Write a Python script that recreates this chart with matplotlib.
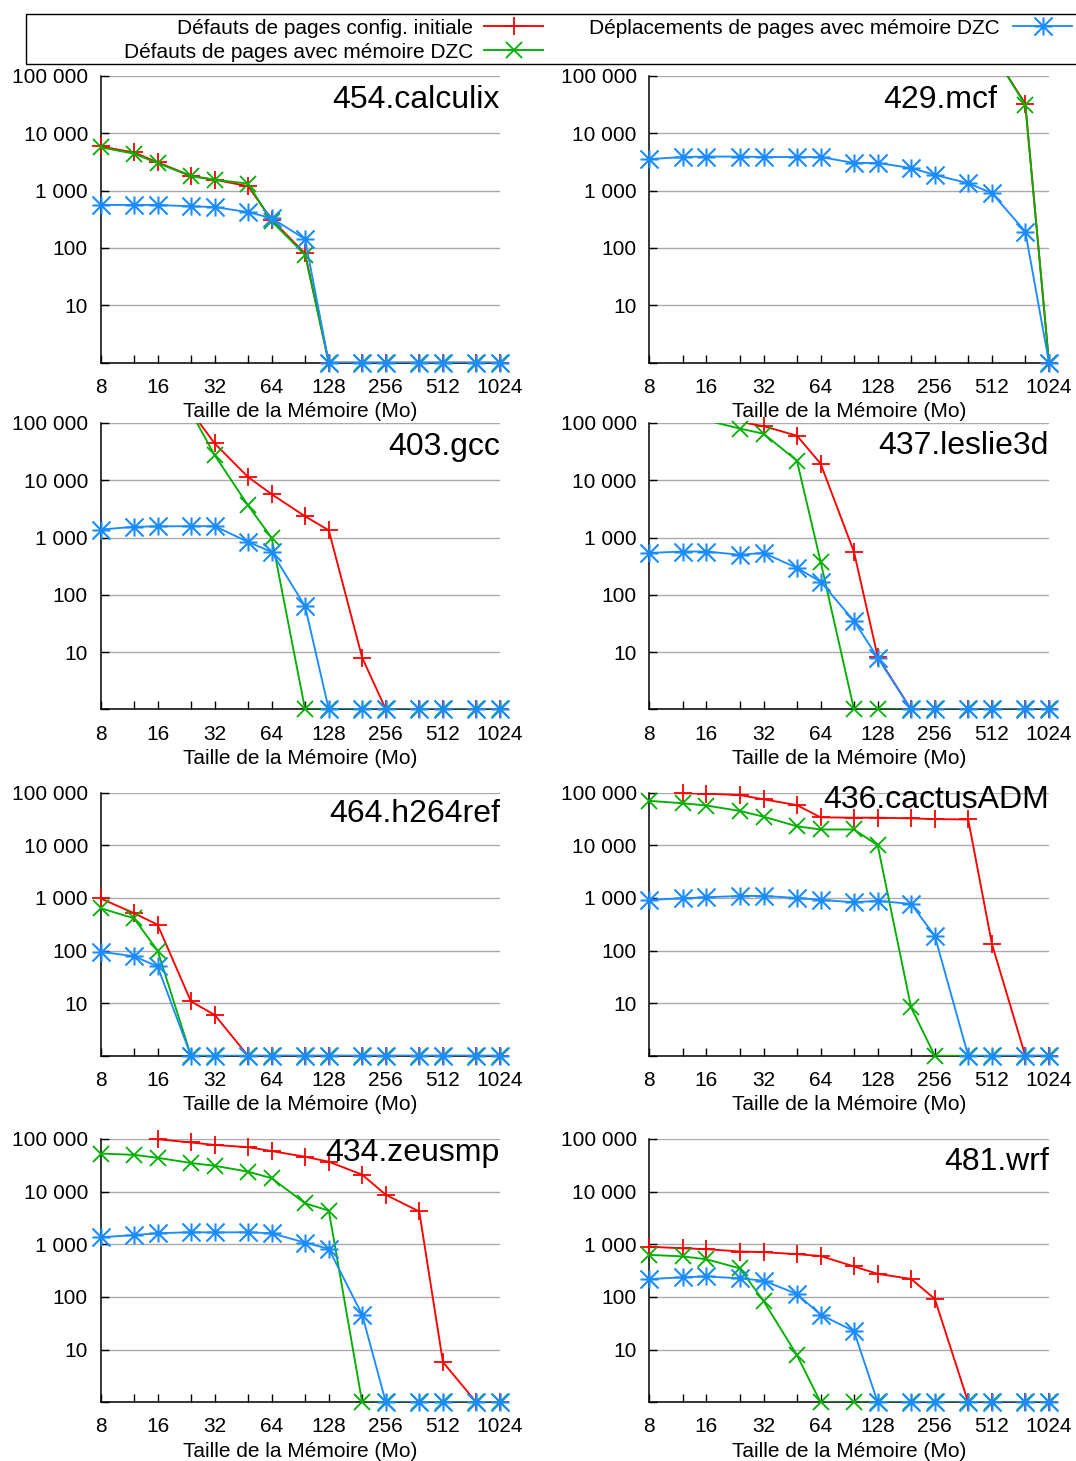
import numpy as np
import matplotlib
matplotlib.use("Agg")
import matplotlib.pyplot as plt
from matplotlib.path import Path
from matplotlib.patches import Rectangle
from matplotlib.ticker import FixedLocator, FixedFormatter, NullFormatter, NullLocator

plt.rcParams['font.family'] = ['Liberation Sans', 'DejaVu Sans']

# ---------------- data ----------------
mem_mo = [8, 12, 16, 24, 32, 48, 64, 96, 128, 192, 256, 384, 512, 768, 1024]
x_tick_values = [8, 16, 32, 64, 128, 256, 512, 1024]
x_tick_labels = ['8', '16', '32', '64', '128', '256', '512', '1024']
y_tick_values = [1, 10, 100, 1000, 10000, 100000]
y_tick_labels = ['', '10', '100', '1 000', '10 000', '100 000']
x_axis_title = 'Taille de la Mémoire (Mo)'
series_labels = ['Défauts de pages config. initiale',
                 'Défauts de pages avec mémoire DZC',
                 'Déplacements de pages avec mémoire DZC']
benchmarks = ['454.calculix', '429.mcf', '403.gcc', '437.leslie3d',
              '464.h264ref', '436.cactusADM', '434.zeusmp', '481.wrf']

calculix_init = [5850, 4600, 3100, 1800, 1540, 1190, 310, 80, 0, 0, 0, 0, 0, 0, 0]
calculix_dzc = [5650, 4380, 3000, 1780, 1540, 1320, 290, 76, 0, 0, 0, 0, 0, 0, 0]
calculix_moves = [560, 560, 560, 530, 515, 420, 330, 142, 0, 0, 0, 0, 0, 0, 0]

mcf_init = [320000, 310000, 300000, 300000, 290000, 290000, 285000, 280000, 280000,
            275000, 272000, 268000, 265000, 32500, 0]
mcf_dzc = [320000, 310000, 300000, 300000, 290000, 290000, 285000, 280000, 280000,
           275000, 272000, 270000, 270000, 31000, 0]
mcf_moves = [3520, 3830, 3900, 3900, 3830, 3830, 3830, 3020, 3020, 2460, 1870, 1340, 900, 193, 0]

gcc_init = [260000, 230000, 200000, 160000, 44000, 11400, 5700, 2350, 1340, 8, 0, 0, 0, 0, 0]
gcc_dzc = [250000, 220000, 190000, 155000, 27500, 3650, 980, 0, 0, 0, 0, 0, 0, 0, 0]
gcc_moves = [1380, 1540, 1570, 1580, 1580, 840, 560, 63, 0, 0, 0, 0, 0, 0, 0]

leslie3d_init = [130000, 125000, 120000, 105000, 88000, 60000, 19500, 560, 8.3, 0, 0, 0, 0, 0, 0]
leslie3d_dzc = [125000, 118000, 111000, 80000, 65000, 22000, 380, 0, 0, 0, 0, 0, 0, 0, 0]
leslie3d_moves = [540, 570, 570, 500, 540, 295, 170, 35, 8, 0, 0, 0, 0, 0, 0]

h264ref_init = [980, 515, 310, 10.8, 6, 0, 0, 0, 0, 0, 0, 0, 0, 0, 0]
h264ref_dzc = [640, 410, 100, 0, 0, 0, 0, 0, 0, 0, 0, 0, 0, 0, 0]
h264ref_moves = [95, 78, 50, 0, 0, 0, 0, 0, 0, 0, 0, 0, 0, 0, 0]

cactusADM_init = [115000, 98000, 96000, 90000, 75000, 58000, 34000, 33500, 33500,
                  32500, 31500, 31000, 134, 0, 0]
cactusADM_dzc = [70000, 63000, 57000, 45000, 35000, 23000, 20000, 20000, 10000, 8.3, 0, 0, 0, 0, 0]
cactusADM_moves = [915, 985, 1030, 1090, 1090, 1000, 915, 830, 880, 770, 190, 0, 0, 0, 0]

zeusmp_init = [115000, 110000, 99000, 86000, 77000, 70000, 59000, 46000, 37000,
               21000, 8700, 4200, 5.8, 0, 0]
zeusmp_dzc = [53000, 50000, 44000, 35000, 31000, 24000, 18000, 6000, 4370, 0, 0, 0, 0, 0, 0]
zeusmp_moves = [1360, 1500, 1620, 1700, 1680, 1700, 1620, 1075, 820, 46, 0, 0, 0, 0, 0]

wrf_init = [900, 840, 810, 730, 710, 650, 600, 380, 275, 220, 92, 0, 0, 0, 0]
wrf_dzc = [630, 590, 520, 350, 84, 7.9, 0, 0, 0, 0, 0, 0, 0, 0, 0]
wrf_moves = [218, 237, 245, 226, 204, 114, 46, 22.5, 0, 0, 0, 0, 0, 0, 0]

bench_data = {
    '454.calculix': (calculix_init, calculix_dzc, calculix_moves),
    '429.mcf': (mcf_init, mcf_dzc, mcf_moves),
    '403.gcc': (gcc_init, gcc_dzc, gcc_moves),
    '437.leslie3d': (leslie3d_init, leslie3d_dzc, leslie3d_moves),
    '464.h264ref': (h264ref_init, h264ref_dzc, h264ref_moves),
    '436.cactusADM': (cactusADM_init, cactusADM_dzc, cactusADM_moves),
    '434.zeusmp': (zeusmp_init, zeusmp_dzc, zeusmp_moves),
    '481.wrf': (wrf_init, wrf_dzc, wrf_moves),
}

# ---------------- styles / layout ----------------
W, H = 1076, 1461
PT = 72.0 / 100.0  # points per pixel
colors = ['#ff0000', '#00b000', '#1a8cff']

star_path = Path([(-1, 0), (1, 0), (0, -1), (0, 1), (-1, -1), (1, 1), (-1, 1), (1, -1)],
                 [Path.MOVETO, Path.LINETO] * 4)
markers = ['+', 'x', star_path]
marker_sizes = [12.5, 11.5, 13]
marker_ew = [1.3, 1.3, 1.5]
LW = 1.35

col_x = [(100.5, 500.0), (649.3, 1049.0)]
row_y = [(75.7, 362.7), (423.0, 709.4), (792.7, 1055.8), (1139.0, 1402.3)]
# title anchor: right edge x, cap-centre y (pixels)
title_pos = {
    '454.calculix': (500, 97), '429.mcf': (997, 97),
    '403.gcc': (500, 443), '437.leslie3d': (1049, 443),
    '464.h264ref': (500, 811), '436.cactusADM': (1049, 796),
    '434.zeusmp': (500, 1149), '481.wrf': (1049, 1158),
}

fig = plt.figure(figsize=(W / 100, H / 100), dpi=100)

# overlay in pixel coordinates for the legend box
ov = fig.add_axes([0, 0, 1, 1])
ov.set_xlim(0, W)
ov.set_ylim(H, 0)
ov.axis('off')

FS = 15
TFS = 23

for i, name in enumerate(benchmarks):
    r, c = divmod(i, 2)
    x0, x1 = col_x[c]
    y0, y1 = row_y[r]
    ax = fig.add_axes([x0 / W, 1 - y1 / H, (x1 - x0) / W, (y1 - y0) / H])
    ax.set_xscale('log', base=2)
    ax.set_yscale('log')
    ax.set_xlim(8, 1024)
    ax.set_ylim(1, 100000)

    ax.xaxis.set_major_locator(FixedLocator(x_tick_values))
    ax.xaxis.set_major_formatter(FixedFormatter(x_tick_labels))
    ax.xaxis.set_minor_locator(FixedLocator([m for m in mem_mo if m not in x_tick_values]))
    ax.xaxis.set_minor_formatter(NullFormatter())
    ax.yaxis.set_major_locator(FixedLocator(y_tick_values))
    ax.yaxis.set_major_formatter(FixedFormatter(y_tick_labels))
    ax.yaxis.set_minor_locator(NullLocator())

    ax.tick_params(which='both', direction='in', length=8 * PT, width=1.0, color='black',
                   top=False, right=False, labelsize=FS)
    ax.tick_params(axis='x', which='major', pad=10.9)
    ax.tick_params(axis='y', which='major', pad=9.0)

    for s in ['top', 'right']:
        ax.spines[s].set_visible(False)
    for s in ['left', 'bottom']:
        ax.spines[s].set_linewidth(1.1)
        ax.spines[s].set_zorder(2.5)

    ax.grid(axis='y', which='major', color='#aaaaaa', linewidth=1.0)
    ax.set_axisbelow(True)

    x = np.array(mem_mo, dtype=float)
    for k, vals in enumerate(bench_data[name]):
        v = np.maximum(np.array(vals, dtype=float), 1.0)  # zero shown on the axis floor
        ax.plot(x, v, color=colors[k], lw=LW, zorder=3 + k)
        inside = (v >= 1) & (v <= 100000)
        ax.plot(x[inside], v[inside], linestyle='none', marker=markers[k],
                ms=marker_sizes[k], mew=marker_ew[k], color=colors[k], zorder=3.5 + k,
                clip_on=False)

    ax.annotate(x_axis_title, xy=(0.5, 0), xycoords='axes fraction',
                xytext=(0, -54.5 * PT), textcoords='offset points',
                ha='center', va='baseline', fontsize=FS)

    tx, ty = title_pos[name]
    fig.text(tx / W, 1 - (ty + 11.5) / H, name, ha='right', va='baseline',
             fontsize=TFS, zorder=10)

# ---------------- legend ----------------
ov.add_patch(Rectangle((26, 14), 1070, 50, fill=False, edgecolor='black', lw=1.0))
legend_layout = [  # text right x, row centre y, sample x0, x1
    (473, 26, 484, 543),
    (473, 50, 484, 543),
    (1000, 26, 1013, 1072),
]
for k, (tx, ty, sx0, sx1) in enumerate(legend_layout):
    ov.text(tx, ty + 7.5, series_labels[k], ha='right', va='baseline', fontsize=FS)
    ov.plot([sx0, sx1], [ty, ty], color=colors[k], lw=LW)
    ov.plot([(sx0 + sx1) / 2], [ty], marker=markers[k], ms=marker_sizes[k],
            mew=marker_ew[k], color=colors[k], linestyle='none')

fig.savefig('out.png', dpi=100)
